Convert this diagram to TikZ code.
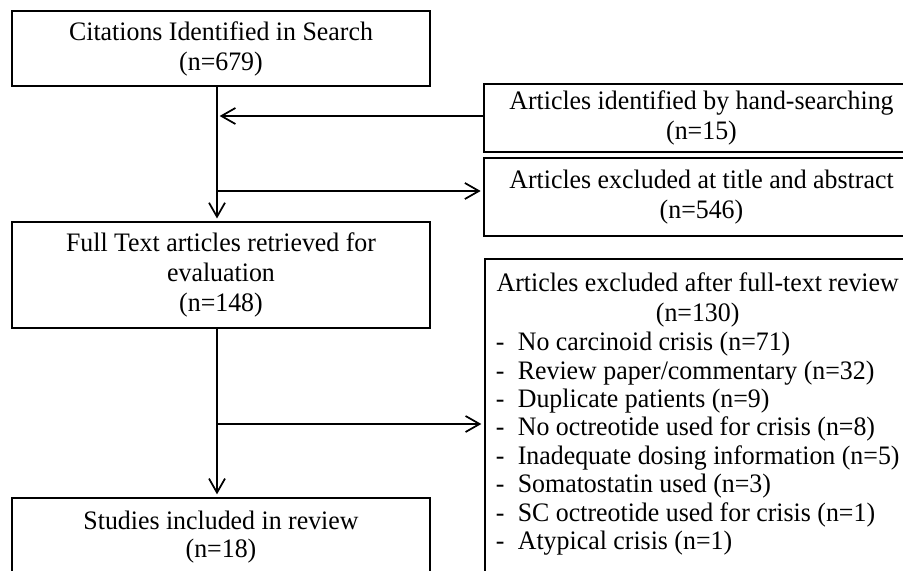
\documentclass[tikz,border=0pt]{standalone}
\usepackage{fontspec}
\setmainfont{Liberation Serif}[FakeStretch=0.97]
\usetikzlibrary{arrows.meta,positioning}

\newcommand{\exitem}[1]{\makebox[16.5pt][l]{-}#1}

\begin{document}
\begin{tikzpicture}[x=0.75pt, y=-0.75pt,
  every node/.style={font=\fontsize{20}{22.5}\selectfont},
  box/.style={draw, line width=1.3pt, rectangle, align=center, inner sep=0pt},
  arr/.style={line width=1.3pt, shorten >=2pt, -{Straight Barb[length=10.5pt, width=12pt]}}]

\clip (0,0) rectangle (903,571);

% left column
\node[box, minimum width=313.5pt, minimum height=56.25pt] (cit) at (221,48.5) {Citations Identified in Search\\(n=679)};
\node[box, minimum width=313.5pt, minimum height=79.5pt] (full) at (221,275) {Full Text articles retrieved for\\evaluation\\(n=148)};
\node[box, anchor=north, minimum width=313.5pt, inner ysep=8.8pt, font=\fontsize{20}{21.3}\selectfont] (stud) at (221,497)
  {\begin{tabular}[t]{@{}c@{}}Studies included in review\\(n=18)\\[40pt]\end{tabular}};

% right column
\node[box, minimum width=326pt, minimum height=51pt] (hand) at (701.5,118) {Articles identified by hand-searching\\(n=15)};
\node[box, minimum width=326pt, minimum height=58.5pt] (excl) at (701.5,197) {Articles excluded at title and abstract\\(n=546)};
\node[box, anchor=north west, inner xsep=8.25pt, inner ysep=9.75pt, font=\fontsize{20}{21.3}\selectfont] (ftrev) at (484,258)
  {\begin{tabular}[t]{@{}l@{}}
  \multicolumn{1}{@{}c@{}}{Articles excluded after full-text review}\\[0.8pt]
  \multicolumn{1}{@{}c@{}}{(n=130)}\\[0.8pt]
  \exitem{No carcinoid crisis (n=71)}\\
  \exitem{Review paper/commentary (n=32)}\\
  \exitem{Duplicate patients (n=9)}\\
  \exitem{No octreotide used for crisis (n=8)}\\
  \exitem{Inadequate dosing information (n=5)}\\
  \exitem{Somatostatin used (n=3)}\\
  \exitem{SC octreotide used for crisis (n=1)}\\
  \exitem{Atypical crisis (n=1)}\\[40pt]
  \end{tabular}};

% connectors
\coordinate (hj) at (217,116);
\coordinate (ej) at (217,191);
\coordinate (fj) at (217,424);
\draw[arr] (cit.south -| hj) -- (full.north -| hj);
\draw[arr] (hand.west |- hj) -- (hj);
\draw[arr] (ej) -- (ej -| excl.west);
\draw[arr] (full.south -| fj) -- (stud.north -| fj);
\draw[arr] (fj) -- (fj -| ftrev.west);

\end{tikzpicture}
\end{document}
